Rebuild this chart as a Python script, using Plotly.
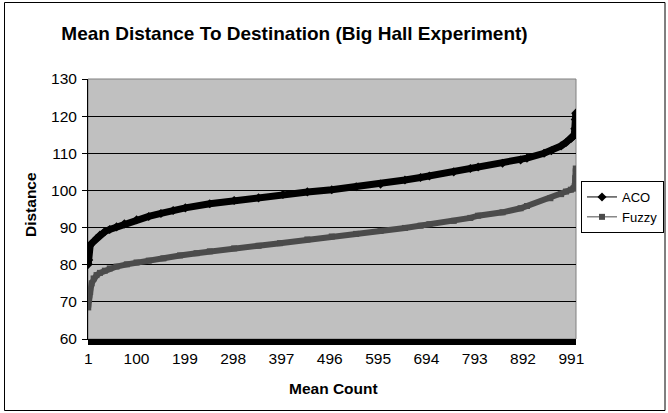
import plotly.graph_objects as go

# ---- data ----
aco_count = [1, 2, 3, 5, 10, 18, 25, 35, 45, 59, 75, 100, 125, 150, 175, 200, 250, 300, 350,
             400, 450, 500, 550, 600, 650, 682, 700, 750, 784, 800, 850, 887, 900, 935, 950,
             970, 980, 990, 993, 996, 997, 998, 999, 1000]
aco_dist = [80.1, 81.3, 84.9, 85.3, 86.0, 87.1, 88.0, 88.9, 89.5, 90.2, 91.0, 92.1, 93.0, 93.8, 94.6,
            95.3, 96.4, 97.3, 98.0, 98.9, 99.6, 100.2, 101.0, 101.7, 102.8, 103.5, 103.9, 105.0,
            105.9, 106.3, 107.3, 108.2, 108.7, 110.0, 110.7, 112.0, 112.9, 113.9, 114.3, 114.7,
            115.0, 116.6, 119.1, 120.8]

fuzzy_count = [1, 2, 3, 5, 8, 12, 18, 25, 35, 45, 59, 80, 100, 125, 155, 189, 223, 250, 300, 350,
               394, 450, 500, 550, 600, 650, 682, 700, 750, 784, 800, 850, 887, 900, 948, 970,
               980, 990, 995, 997, 998, 999, 1000]
fuzzy_dist = [68.5, 70.5, 71.8, 72.7, 75.0, 76.3, 77.2, 77.8, 78.4, 79.0, 79.5, 80.1, 80.6, 81.1,
              81.7, 82.5, 83.1, 83.6, 84.4, 85.1, 85.8, 86.8, 87.6, 88.3, 89.1, 89.9, 90.5, 90.9,
              91.8, 92.6, 93.2, 94.1, 95.2, 95.8, 97.9, 99.0, 99.7, 100.2, 100.5, 100.7, 101.2,
              103.3, 105.9]

x_tick_vals = [1, 100, 199, 298, 397, 496, 595, 694, 793, 892, 991]
y_tick_vals = [60, 70, 80, 90, 100, 110, 120, 130]

title_text = "Mean Distance To Destination (Big Hall Experiment)"
x_title = "Mean Count"
y_title = "Distance"

FONT = "Liberation Sans, Arial, sans-serif"
ACO_COLOR = "#000000"
FUZZY_COLOR = "#4B4B4B"

fig = go.Figure()

# thick bands (dense markers in the original look like a thick line)
fig.add_trace(go.Scatter(x=aco_count, y=aco_dist, mode="lines",
                         line=dict(color=ACO_COLOR, width=7), showlegend=False, hoverinfo="skip"))
fig.add_trace(go.Scatter(x=fuzzy_count, y=fuzzy_dist, mode="lines",
                         line=dict(color=FUZZY_COLOR, width=6), showlegend=False, hoverinfo="skip"))
# marker traces carrying the legend entries
fig.add_trace(go.Scatter(x=aco_count, y=aco_dist, mode="lines+markers", name="ACO",
                         line=dict(color=ACO_COLOR, width=1),
                         marker=dict(symbol="diamond", size=7, color=ACO_COLOR)))
fig.add_trace(go.Scatter(x=fuzzy_count, y=fuzzy_dist, mode="lines+markers", name="Fuzzy",
                         line=dict(color=FUZZY_COLOR, width=1),
                         marker=dict(symbol="square", size=6, color=FUZZY_COLOR)))

L, R, T, B = 88, 92, 79, 74
W, H = 668, 413
pw, ph = W - L - R, H - T - B

def px_x(p):
    return (p - L) / pw

def px_y(p):
    return (H - B - p) / ph

fig.update_layout(
    width=W, height=H,
    margin=dict(l=L, r=R, t=T, b=B, autoexpand=False),
    paper_bgcolor="white",
    plot_bgcolor="#C0C0C0",
    font=dict(family=FONT, size=15.5, color="black"),
    title=dict(text="<b>" + title_text + "</b>", font=dict(size=19, family=FONT),
               x=294.5 / W, xref="container", xanchor="center",
               y=1 - 33 / H, yref="container", yanchor="middle"),
    showlegend=True,
    legend=dict(x=px_x(581), y=px_y(181), xanchor="left", yanchor="top",
                bgcolor="white", bordercolor="black", borderwidth=1,
                font=dict(size=13, family=FONT), tracegroupgap=0),
    xaxis=dict(range=[0.5, 1000.5], tickmode="array", tickvals=x_tick_vals,
               ticktext=[str(v) for v in x_tick_vals],
               showgrid=False, zeroline=False, showline=True, linecolor="black", linewidth=1,
               ticks="outside", ticklen=5, tickcolor="black", tickwidth=1,
               minor=dict(ticks="outside", ticklen=5, dtick=1, tick0=1, tickcolor="black",
                          tickwidth=1, showgrid=False),
               tickfont=dict(size=15.5, family=FONT)),
    yaxis=dict(range=[60, 130], tickmode="array", tickvals=y_tick_vals,
               showgrid=True, gridcolor="black", gridwidth=1, zeroline=False,
               showline=True, linecolor="black", linewidth=1,
               ticks="outside", ticklen=5, tickcolor="black", tickwidth=1,
               ticklabelstandoff=2,
               tickfont=dict(size=15.5, family=FONT)),
    annotations=[
        dict(text="<b>" + x_title + "</b>", xref="paper", yref="paper",
             x=px_x(333), y=px_y(388), xanchor="center", yanchor="middle",
             showarrow=False, font=dict(size=15.5, family=FONT)),
        dict(text="<b>" + y_title + "</b>", xref="paper", yref="paper",
             x=px_x(30), y=px_y(205), xanchor="center", yanchor="middle",
             textangle=-90, showarrow=False, font=dict(size=15.5, family=FONT)),
    ],
    shapes=[
        # plot area border (top/right grey)
        dict(type="rect", xref="paper", yref="paper", x0=0, x1=1, y0=0, y1=1,
             line=dict(color="#808080", width=1), fillcolor="rgba(0,0,0,0)", layer="below"),
        # outer chart border
        dict(type="rect", xref="paper", yref="paper",
             x0=px_x(4.5), x1=px_x(665), y0=px_y(410.5), y1=px_y(2.5),
             line=dict(color="black", width=1), fillcolor="rgba(0,0,0,0)", layer="below"),
    ],
)

fig.write_html("out.html",
               config={"displayModeBar": False},
               post_script="document.body.style.margin='0';document.body.style.padding='0';")
